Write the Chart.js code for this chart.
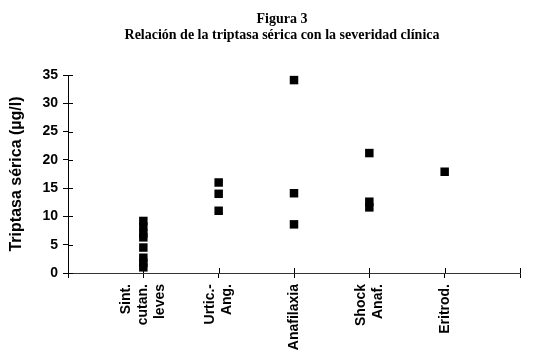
<!DOCTYPE html>
<html>
<head>
<meta charset="utf-8">
<script src="https://cdn.jsdelivr.net/npm/chart.js@4/dist/chart.umd.min.js"></script>
<style>
html,body{margin:0;padding:0;background:#fff;}
#wrap{width:537px;height:356px;position:relative;}
</style>
</head>
<body>
<div id="wrap"><canvas id="c" width="537" height="356"></canvas></div>
<script>
const titleLines = ['Figura 3', 'Relación de la triptasa sérica con la severidad clínica'];
const yTitle = 'Triptasa sérica (µg/l)';
const categories = [['Sint.', 'cutan.', 'leves'], ['Urtic.-', 'Ang.'], ['Anafilaxia'], ['Shock', 'Anaf.'], ['Eritrod.']];
const yTicks = [0, 5, 10, 15, 20, 25, 30, 35];
const sintValues = [9.2, 8.2, 7.0, 6.3, 4.5, 2.7, 1.8, 1.0];
const urticValues = [16.0, 14.0, 11.0];
const anafValues = [34.1, 14.1, 8.6];
const shockValues = [21.2, 12.6, 11.6];
const eritrodValues = [17.9];

const groups = [sintValues, urticValues, anafValues, shockValues, eritrodValues];
const points = [];
groups.forEach((vals, i) => vals.forEach(v => points.push({x: i + 1, y: v})));

const LABEL_LH = 14 * 1.2;

// center multi-line rotated category labels on their tick
const centerLabels = {
  id: 'centerLabels',
  beforeDraw(chart) {
    const xs = chart.scales.x;
    const items = xs.getLabelItems(chart.chartArea);
    items.forEach(it => {
      if (it._centered) return;
      const n = Array.isArray(it.label) ? it.label.length : 1;
      it.options.translation[0] -= (n - 1) * LABEL_LH / 2;
      it._centered = true;
    });
  }
};

const innerTicks = {
  id: 'innerTicks',
  afterDraw(chart) {
    const ctx = chart.ctx;
    const xs = chart.scales.x, ys = chart.scales.y;
    ctx.save();
    ctx.lineWidth = 1;
    ctx.strokeStyle = '#000';
    ctx.beginPath();
    for (let i = 1; i <= categories.length + 1; i++) {
      const px = Math.round(xs.getPixelForValue(i)) + 0.5;
      ctx.moveTo(px, xs.top);
      ctx.lineTo(px, xs.top - 5);
    }
    yTicks.forEach(v => {
      const py = Math.round(ys.getPixelForValue(v)) + 0.5;
      ctx.moveTo(ys.right, py);
      ctx.lineTo(ys.right + 5, py);
    });
    ctx.stroke();
    ctx.fillStyle = '#000';
    ctx.textAlign = 'center';
    ctx.textBaseline = 'middle';
    ctx.font = 'bold 14px "Liberation Serif", "Times New Roman", serif';
    ctx.fillText(titleLines[0], 282, 19);
    ctx.fillText(titleLines[1], 282, 35);
    ctx.restore();
  }
};

new Chart(document.getElementById('c'), {
  type: 'scatter',
  data: {
    datasets: [{
      data: points,
      pointStyle: 'rect',
      pointRadius: 6,
      pointHoverRadius: 6,
      backgroundColor: '#000',
      borderColor: '#000',
      borderWidth: 0,
      clip: false
    }]
  },
  options: {
    responsive: false,
    animation: false,
    events: [],
    layout: {padding: {top: 75, right: 17, left: 0, bottom: 0}},
    plugins: {legend: {display: false}, tooltip: {enabled: false}, title: {display: false}},
    scales: {
      x: {
        type: 'linear',
        min: 0, max: 6,
        afterBuildTicks(scale) {
          scale.ticks = [0, 1, 2, 3, 4, 5, 6].map(v => ({value: v}));
        },
        afterFit(scale) { scale.height = 83; scale.paddingRight = 0; scale.paddingLeft = 0; },
        border: {display: true, color: '#333', width: 1},
        grid: {display: true, drawOnChartArea: false, drawTicks: true, tickLength: 5, color: '#000'},
        ticks: {
          autoSkip: false,
          minRotation: 90, maxRotation: 90,
          padding: 6,
          color: '#000',
          font: {family: 'Arial, "Liberation Sans", sans-serif', size: 14, weight: 'bold', lineHeight: 1.2},
          callback: v => (v >= 1 && v <= categories.length) ? categories[v - 1] : ''
        }
      },
      y: {
        min: 0, max: 35,
        afterBuildTicks(scale) { scale.ticks = yTicks.map(v => ({value: v})); },
        afterFit(scale) { scale.width = 68; },
        border: {display: true, color: '#000', width: 1},
        grid: {display: true, drawOnChartArea: false, drawTicks: true, tickLength: 5, color: '#000'},
        ticks: {
          padding: 5,
          color: '#000',
          font: {family: 'Arial, "Liberation Sans", sans-serif', size: 14, weight: 'bold'}
        },
        title: {
          display: true,
          text: yTitle,
          color: '#000',
          padding: {top: 7, bottom: 0},
          font: {family: 'Arial, "Liberation Sans", sans-serif', size: 16, weight: 'bold'}
        }
      }
    }
  },
  plugins: [centerLabels, innerTicks]
});
</script>
</body>
</html>
